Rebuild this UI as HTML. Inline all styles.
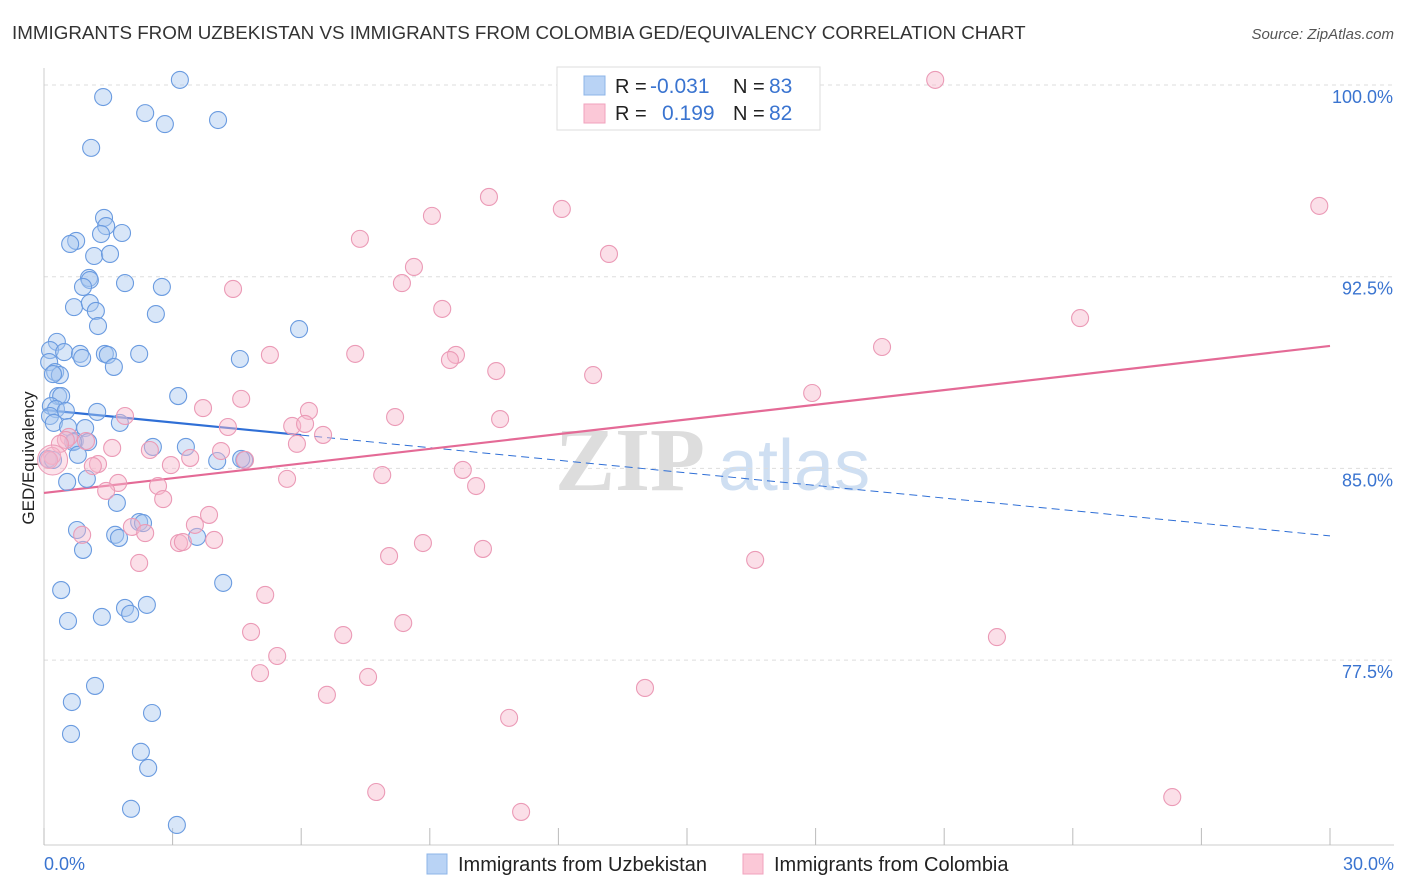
<!DOCTYPE html>
<html><head><meta charset="utf-8"><style>
body{margin:0;background:#fff;font-family:"Liberation Sans",sans-serif}
#wrap{position:relative;width:1406px;height:892px;overflow:hidden}
</style></head><body>
<div id="wrap">
<svg id="svg" width="1406" height="892" xmlns="http://www.w3.org/2000/svg">
<text x="12" y="39" font-size="18.8" fill="#333">IMMIGRANTS FROM UZBEKISTAN VS IMMIGRANTS FROM COLOMBIA GED/EQUIVALENCY CORRELATION CHART</text>
<text x="1394" y="39" font-size="15" fill="#555" font-style="italic" text-anchor="end">Source: ZipAtlas.com</text>
<text transform="translate(34,458) rotate(-90)" font-size="17" fill="#222" text-anchor="middle">GED/Equivalency</text>
<g><text x="555" y="490" font-size="90" fill="#ddd" font-family="Liberation Serif" font-weight="bold">ZIP</text><text x="718" y="490" font-size="72" fill="#cfdff2">atlas</text></g>
<g id="grid"></g><g id="axes"></g><g id="lines"></g><g id="pts"></g>
<g>
<rect x="557" y="67" width="263" height="63" fill="#fff" stroke="#ddd"/>
<rect x="584" y="76" width="21" height="19" fill="#b9d3f5" stroke="#8db4e8"/>
<rect x="584" y="104" width="21" height="19" fill="#fbc8d7" stroke="#f0a2bd"/>
<text x="615" y="93" font-size="20" fill="#222">R =</text><text x="650" y="93" font-size="21" fill="#3a74d0">-0.031</text>
<text x="733" y="93" font-size="20" fill="#222">N =</text><text x="769" y="93" font-size="21" fill="#3a74d0">83</text>
<text x="615" y="120" font-size="20" fill="#222">R =</text><text x="662" y="120" font-size="21" fill="#3a74d0">0.199</text>
<text x="733" y="120" font-size="20" fill="#222">N =</text><text x="769" y="120" font-size="21" fill="#3a74d0">82</text>
</g>
<g>
<rect x="427" y="854" width="20" height="20" fill="#b9d3f5" stroke="#8db4e8"/>
<text x="458" y="871" font-size="20" fill="#222">Immigrants from Uzbekistan</text>
<rect x="743" y="854" width="20" height="20" fill="#fbc8d7" stroke="#f0a2bd"/>
<text x="774" y="871" font-size="20" fill="#222">Immigrants from Colombia</text>
</g>
</svg></div>
<script>
const yTicks=[100,92.5,85,77.5];
const yTickLabels=["100.0%","92.5%","85.0%","77.5%"];
const xTicks=[0,3,6,9,12,15,18,21,24,27,30];
const blueX=[3.17,1.38,2.36,2.82,4.06,1.10,1.40,1.45,1.33,1.82,0.75,0.61,1.17,1.54,1.05,1.07,1.89,0.91,2.75,0.70,1.07,1.21,2.61,1.26,5.95,0.30,0.14,0.47,0.84,1.42,1.49,2.22,0.89,4.57,0.12,1.63,0.26,0.37,0.21,0.33,0.40,3.13,0.16,0.28,0.51,1.24,0.14,1.77,0.23,0.56,0.96,0.72,1.03,0.68,2.54,3.31,0.79,0.09,4.04,4.67,4.60,1.00,0.54,1.70,0.77,2.22,2.31,1.66,1.75,3.57,0.91,0.40,4.18,1.89,2.40,1.35,2.01,0.56,1.19,0.65,2.52,0.63,2.26,2.43,2.03,3.10,0.21];
const blueY=[100.2,99.53,98.90,98.47,98.63,97.54,94.80,94.48,94.17,94.21,93.90,93.78,93.31,93.39,92.45,92.37,92.25,92.10,92.10,91.31,91.47,91.16,91.04,90.57,90.45,89.95,89.63,89.55,89.48,89.48,89.44,89.48,89.32,89.28,89.16,88.97,88.77,88.65,88.69,87.83,87.83,87.83,87.44,87.32,87.25,87.21,87.05,86.78,86.78,86.62,86.58,86.07,86.03,86.03,85.84,85.84,85.53,85.37,85.29,85.33,85.37,84.59,84.47,83.65,82.59,82.90,82.86,82.40,82.28,82.32,81.81,80.24,80.52,79.54,79.66,79.19,79.31,79.03,76.49,75.86,75.43,74.61,73.91,73.28,71.68,71.05,85.33];
const pinkX=[20.79,29.75,10.38,12.08,9.05,7.37,13.18,8.63,8.35,4.41,9.29,24.17,19.55,5.27,7.26,9.61,9.47,10.55,12.81,17.92,4.60,3.71,6.18,1.89,8.19,10.64,4.29,5.79,6.09,6.51,0.58,0.51,0.98,0.37,1.59,2.47,5.90,0.19,0.12,3.41,4.69,4.13,1.26,1.14,2.96,9.77,7.89,5.67,1.73,2.66,10.08,1.45,2.78,3.85,2.05,3.52,2.36,0.89,3.97,3.15,3.24,8.84,10.24,8.05,16.59,2.22,5.16,8.38,4.83,6.98,22.23,5.44,5.04,7.56,6.60,14.02,10.85,7.75,26.32,11.13];
const pinkY=[100.2,95.27,95.62,95.15,94.88,93.98,93.39,92.88,92.25,92.02,91.24,90.88,89.75,89.44,89.48,89.44,89.24,88.81,88.65,87.95,87.72,87.36,87.25,87.05,87.01,86.93,86.62,86.66,86.74,86.31,86.23,86.11,86.07,85.96,85.80,85.72,85.96,85.49,85.33,85.41,85.33,85.68,85.17,85.09,85.13,84.94,84.74,84.59,84.43,84.31,84.31,84.12,83.80,83.18,82.71,82.79,82.47,82.40,82.20,82.08,82.12,82.08,81.85,81.57,81.42,81.30,80.05,78.95,78.60,78.48,78.40,77.66,76.99,76.84,76.14,76.41,75.24,72.34,72.14,71.56];
const blueTrend=[87.29,82.36];
const pinkTrend=[84.04,89.79];
const NS="http://www.w3.org/2000/svg";
const X=v=>44+v/30*1286;
const Y=v=>85+(100-v)*25.56;
function mk(tag,attrs,parent){const e=document.createElementNS(NS,tag);for(const k in attrs)e.setAttribute(k,attrs[k]);document.getElementById(parent).appendChild(e);return e;}
yTicks.forEach((t,i)=>{
 const l=mk('line',{x1:44,x2:1394,y1:Y(t),y2:Y(t),stroke:'#ddd','stroke-dasharray':'4,4'},'grid');
 
 
 const tx=mk('text',{x:1393,y:Y(t)+18,'font-size':18,fill:'#3a74d0','text-anchor':'end'},'grid');
 tx.textContent=yTickLabels[i];
 
 
});
const ax=mk('line',{x1:44,x2:44,y1:68,y2:845,stroke:'#ccc'},'axes');


const bx=mk('line',{x1:44,x2:1394,y1:845,y2:845,stroke:'#ccc'},'axes');


xTicks.forEach(t=>{
 const l=mk('line',{x1:X(t),x2:X(t),y1:828,y2:845,stroke:'#bbb'},'axes');
 
 
});
const xl0=mk('text',{x:44,y:870,'font-size':18,fill:'#3a74d0'},'axes');xl0.textContent='0.0%';


const xl1=mk('text',{x:1394,y:870,'font-size':18,fill:'#3a74d0','text-anchor':'end'},'axes');xl1.textContent='30.0%';


function pts(xs,ys,fill,stroke,name){xs.forEach((x,i)=>{
 const c=mk('circle',{cx:X(x),cy:Y(ys[i]),r:8.5,fill:fill,'fill-opacity':0.45,stroke:stroke,'stroke-width':1.1},'pts');
 
 
});}
pts(blueX,blueY,'#a9c8f0','#6a9be0','point-uzbekistan');
pts(pinkX,pinkY,'#f7b8cc','#eb9ab6','point-colombia');
const big=mk('circle',{cx:X(0.2),cy:Y(85.33),r:15,fill:'#f7b8cc','fill-opacity':0.4,stroke:'#eb9ab6'},'pts');


const bt=v=>blueTrend[0]+(blueTrend[1]-blueTrend[0])*v/30;
const pt=v=>pinkTrend[0]+(pinkTrend[1]-pinkTrend[0])*v/30;
const l1=mk('line',{x1:X(0),y1:Y(bt(0)),x2:X(6),y2:Y(bt(6)),stroke:'#2f6fd6','stroke-width':2.2},'lines');


const l2=mk('line',{x1:X(6),y1:Y(bt(6)),x2:X(30),y2:Y(bt(30)),stroke:'#2f6fd6','stroke-width':1,'stroke-dasharray':'8,5'},'lines');


const l3=mk('line',{x1:X(0),y1:Y(pt(0)),x2:X(30),y2:Y(pt(30)),stroke:'#e46a96','stroke-width':2.2},'lines');


</script>
</body></html>
